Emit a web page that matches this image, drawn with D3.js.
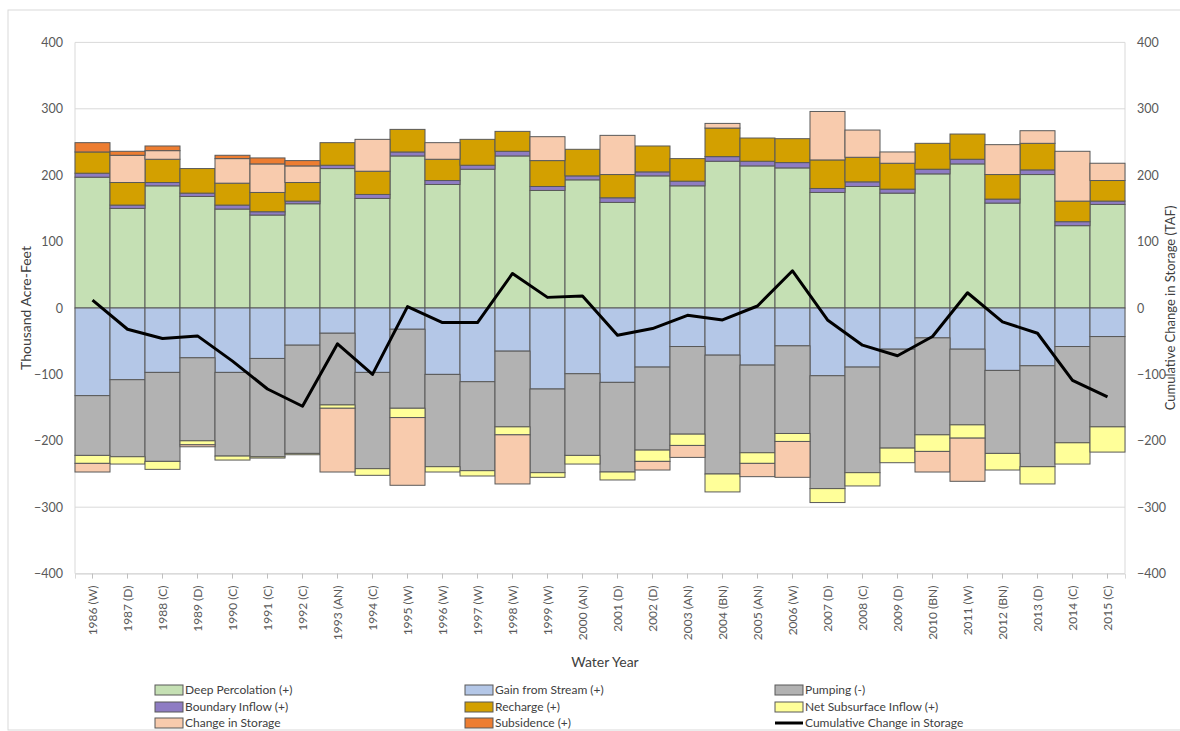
<!DOCTYPE html>
<html>
<head>
<meta charset="utf-8">
<script src="https://cdn.jsdelivr.net/npm/d3@7"></script>
<style>
  html, body { margin: 0; padding: 0; background: #ffffff; }
  svg { display: block; }
  text { font-family: Lato, "Liberation Sans", sans-serif; }
</style>
</head>
<body>
<svg id="chart" width="1180" height="731"></svg>
<script>
// ---------- data ----------
const years = ["1986 (W)","1987 (D)","1988 (C)","1989 (D)","1990 (C)","1991 (C)","1992 (C)","1993 (AN)","1994 (C)","1995 (W)",
  "1996 (W)","1997 (W)","1998 (W)","1999 (W)","2000 (AN)","2001 (D)","2002 (D)","2003 (AN)","2004 (BN)","2005 (AN)",
  "2006 (W)","2007 (D)","2008 (C)","2009 (D)","2010 (BN)","2011 (W)","2012 (BN)","2013 (D)","2014 (C)","2015 (C)"];

const deepPercolation = [197,150,184,168,149,140,157,210,165,229,186,209,229,177,193,159,199,184,221,214,211,174,183,173,202,217,158,201,124,156];
const gainFromStream  = [-132,-108,-97,-75,-97,-76,-56,-38,-97,-32,-100,-111,-65,-122,-99,-112,-89,-58,-71,-86,-57,-102,-89,-62,-45,-62,-94,-87,-58,-43];
const pumping         = [-90,-116,-134,-125,-126,-148,-163,-108,-145,-119,-139,-134,-114,-126,-123,-135,-125,-132,-179,-132,-132,-170,-159,-149,-146,-114,-125,-152,-145,-136];
const boundaryInflow  = [6,5,5,5,6,5,4,5,6,6,6,6,7,6,6,7,6,7,7,7,8,6,7,6,7,7,6,7,6,5];
const recharge        = [32,34,35,37,33,29,28,34,35,34,32,39,30,39,40,35,39,34,43,35,36,43,37,39,39,38,37,40,31,31];
const netSubsurface   = [-12,-11,-12,-6,-6,-2,-2,-5,-10,-14,-8,-8,-12,-7,-13,-12,-17,-17,-27,-16,-12,-21,-20,-22,-25,-20,-25,-26,-32,-38];
const changeInStorage = [-13,41,13,-3,37,43,25,-96,48,-102,25,0,-74,36,0,59,-13,-18,7,-20,-54,73,41,17,-31,-65,45,19,75,26];
const subsidence      = [14,6,7,0,5,9,8,0,0,0,0,0,0,0,0,0,0,0,0,0,0,0,0,0,0,0,0,0,0,0];
const cumulativeChange = [12,-32,-46,-42,-80,-122,-148,-54,-100,2,-22,-22,52,16,18,-41,-31,-11,-18,3,56,-18,-56,-72,-43,23,-21,-38,-109,-134];

const yTicks = [400,300,200,100,0,-100,-200,-300,-400];

const seriesKeys   = ["dp","gs","pu","bi","rc","ns","cs","sb"];
const seriesNames  = ["Deep Percolation (+)","Gain from Stream (+)","Pumping (-)","Boundary Inflow (+)","Recharge (+)","Net Subsurface Inflow (+)","Change in Storage","Subsidence (+)"];
const seriesValues = [deepPercolation, gainFromStream, pumping, boundaryInflow, recharge, netSubsurface, changeInStorage, subsidence];
const seriesColors = ["#c5e0b4","#b4c7e7","#b2b2b2","#8e7cc3","#d3a000","#ffff99","#f8cbad","#ed7d31"];

// table for d3.stack
const table = years.map((yr, i) => {
  const row = { year: yr };
  seriesKeys.forEach((k, j) => row[k] = seriesValues[j][i]);
  return row;
});

// ---------- layout ----------
const svg = d3.select("#chart");
const L = 75, R = 1125, T = 42.4, B = 573.6;

const x = d3.scaleBand().domain(years).range([L, R]).padding(0);
const y = d3.scaleLinear().domain([-400, 400]).range([B, T]);
const y2 = d3.scaleLinear().domain([-400, 400]).range([B, T]);

// chart area border
svg.append("rect").attr("x", 8).attr("y", 10).attr("width", 1190).attr("height", 720)
  .attr("fill", "none").attr("stroke", "#d9d9d9").attr("stroke-width", 1);

// gridlines
svg.append("g").selectAll("line").data(yTicks).join("line")
  .attr("x1", L).attr("x2", R)
  .attr("y1", d => y(d)).attr("y2", d => y(d))
  .attr("stroke", "#d9d9d9").attr("stroke-width", 1);

// vertical axis lines
svg.append("line").attr("x1", L).attr("x2", L).attr("y1", T).attr("y2", B).attr("stroke", "#d9d9d9");
svg.append("line").attr("x1", R).attr("x2", R).attr("y1", T).attr("y2", B).attr("stroke", "#d9d9d9");

// left axis
const leftAxis = d3.axisLeft(y).tickValues(yTicks).tickSize(0).tickPadding(12);
const gl = svg.append("g").attr("transform", `translate(${L},0)`).call(leftAxis);
gl.select(".domain").remove();
gl.selectAll("text").attr("fill", "#595959").style("font-size", "12.5px").style("font-family", "Lato, 'Liberation Sans', sans-serif");

// right axis
const rightAxis = d3.axisRight(y2).tickValues(yTicks).tickSize(0).tickPadding(12);
const gr = svg.append("g").attr("transform", `translate(${R},0)`).call(rightAxis);
gr.select(".domain").remove();
gr.selectAll("text").attr("fill", "#595959").style("font-size", "12.5px").style("font-family", "Lato, 'Liberation Sans', sans-serif");

// bottom axis
const bottomAxis = d3.axisBottom(x).tickSize(5).tickPadding(4);
const gb = svg.append("g").attr("transform", `translate(0,${B})`).call(bottomAxis);
gb.select(".domain").attr("stroke", "#d9d9d9");
gb.selectAll(".tick line").attr("stroke", "#bfbfbf");
gb.selectAll("text")
  .attr("fill", "#595959")
  .style("font-size", "12px").style("font-family", "Lato, 'Liberation Sans', sans-serif")
  .attr("transform", "rotate(-90)")
  .attr("text-anchor", "end")
  .attr("x", -12).attr("y", 0).attr("dy", "0.35em");

// stacked bars
const stack = d3.stack().keys(seriesKeys).order(d3.stackOrderNone).offset(d3.stackOffsetDiverging);
const stacked = stack(table);

const barsG = svg.append("g");
stacked.forEach((layer, j) => {
  barsG.append("g").attr("fill", seriesColors[j])
    .selectAll("rect").data(layer.filter(d => d[1] !== d[0])).join("rect")
    .attr("x", d => x(d.data.year))
    .attr("width", x.bandwidth())
    .attr("y", d => y(Math.max(d[0], d[1])))
    .attr("height", d => Math.abs(y(d[0]) - y(d[1])))
    .attr("stroke", "#595959").attr("stroke-width", 1);
});

// cumulative line
const line = d3.line()
  .x((d, i) => x(years[i]) + x.bandwidth() / 2)
  .y(d => y2(d));
svg.append("path").datum(cumulativeChange)
  .attr("d", line).attr("fill", "none")
  .attr("stroke", "#000000").attr("stroke-width", 3)
  .attr("stroke-linejoin", "round");

// axis titles
svg.append("text").attr("transform", `translate(31,${(T + B) / 2}) rotate(-90)`)
  .attr("text-anchor", "middle").attr("fill", "#404040").style("font-size", "14px")
  .text("Thousand Acre-Feet");
svg.append("text").attr("transform", `translate(1165,${(T + B) / 2}) rotate(-90)`)
  .attr("text-anchor", "middle").attr("dy", "0.8em").attr("fill", "#404040").style("font-size", "13px")
  .text("Cumulative Change in Storage (TAF)");
svg.append("text").attr("x", 605).attr("y", 667)
  .attr("text-anchor", "middle").attr("fill", "#404040").style("font-size", "14px")
  .text("Water Year");

// legend
const legendItems = [
  { name: seriesNames[0], color: seriesColors[0], type: "rect" },
  { name: seriesNames[1], color: seriesColors[1], type: "rect" },
  { name: seriesNames[2], color: seriesColors[2], type: "rect" },
  { name: seriesNames[3], color: seriesColors[3], type: "rect" },
  { name: seriesNames[4], color: seriesColors[4], type: "rect" },
  { name: seriesNames[5], color: seriesColors[5], type: "rect" },
  { name: seriesNames[6], color: seriesColors[6], type: "rect" },
  { name: seriesNames[7], color: seriesColors[7], type: "rect" },
  { name: "Cumulative Change in Storage", color: "#000000", type: "line" }
];
const colX = [155, 465, 775];
const rowY = [690, 707, 723];
const lg = svg.append("g");
legendItems.forEach((it, i) => {
  const cx = colX[i % 3], cy = rowY[Math.floor(i / 3)];
  if (it.type === "rect") {
    lg.append("rect").attr("x", cx).attr("y", cy - 5).attr("width", 28).attr("height", 10)
      .attr("fill", it.color).attr("stroke", "#595959").attr("stroke-width", 1);
  } else {
    lg.append("line").attr("x1", cx).attr("x2", cx + 28).attr("y1", cy).attr("y2", cy)
      .attr("stroke", it.color).attr("stroke-width", 3);
  }
  lg.append("text").attr("x", cx + 30).attr("y", cy).attr("dy", "0.35em")
    .attr("fill", "#404040").style("font-size", "12px").text(it.name);
});
</script>
</body>
</html>
